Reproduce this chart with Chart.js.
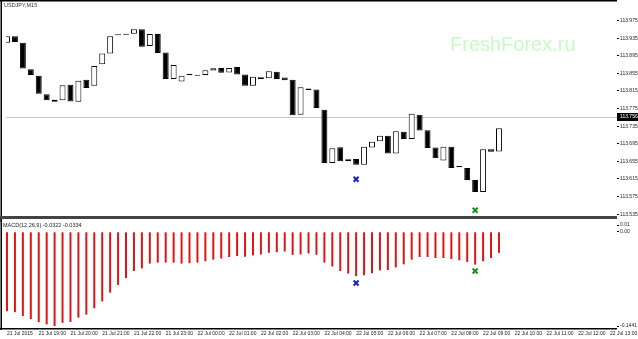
<!DOCTYPE html>
<html>
<head>
<meta charset="utf-8">
<script src="https://cdn.jsdelivr.net/npm/chart.js@4.4.1/dist/chart.umd.min.js"></script>
<style>
  html, body { margin: 0; padding: 0; background: #fff; }
  #wrap { position: relative; width: 638px; height: 339px; overflow: hidden; }
  #wrap canvas { position: absolute; left: 0; }
  #price { top: 0; }
  #macd { top: 219px; }
</style>
</head>
<body>
<div id="wrap">
  <canvas id="price" width="638" height="222"></canvas>
  <canvas id="macd" width="638" height="120"></canvas>
</div>
<script>
// ================== DATA ==================
const symbolLabel = "USDJPY,M15";
const macdLabel = "MACD(12,26,9) -0.0322 -0.0334";
const watermark = "FreshForex.ru";

// M15 candles, 21 Jul 18:00 .. 22 Jul 09:30
const opens = [
  113.9246, 113.9393, 113.9246, 113.8645, 113.8498, 113.8073, 113.7904, 113.7941, 113.8293, 113.7904,
  113.8403, 113.8271, 113.8755, 113.9004, 113.9415, 113.9429, 113.9451, 113.9554, 113.9173, 113.9444,
  113.9026, 113.8425, 113.8366, 113.8513, 113.8498, 113.8513, 113.8615, 113.8674, 113.8571, 113.8696,
  113.8527, 113.8271, 113.8460, 113.8438, 113.8586, 113.8454, 113.8403, 113.7611, 113.8205, 113.8183,
  113.7721, 113.6511, 113.6870, 113.6555, 113.6606, 113.6474, 113.6863, 113.7008, 113.7134, 113.6731,
  113.7222, 113.7061, 113.7611, 113.7259, 113.6863, 113.6568, 113.6885, 113.6423, 113.6401, 113.6128,
  113.5851, 113.6826, 113.6775
];
const closes = [
  113.9393, 113.9261, 113.8659, 113.8513, 113.8086, 113.7941, 113.7948, 113.8278, 113.7910, 113.8381,
  113.8218, 113.8718, 113.9004, 113.9393, 113.9415, 113.9429, 113.9554, 113.9158, 113.9444, 113.9011,
  113.8425, 113.8740, 113.8498, 113.8513, 113.8498, 113.8623, 113.8667, 113.8564, 113.8674, 113.8527,
  113.8271, 113.8476, 113.8425, 113.8601, 113.8425, 113.8394, 113.7596, 113.8234, 113.8174, 113.7765,
  113.6511, 113.6848, 113.6555, 113.6599, 113.6474, 113.6885, 113.6995, 113.7134, 113.6731, 113.7237,
  113.7061, 113.7633, 113.7250, 113.6854, 113.6621, 113.6885, 113.6401, 113.6423, 113.6128, 113.5851,
  113.6826, 113.6766, 113.7303
];

const macd = [
  -0.1214, -0.1229, -0.1288, -0.1333, -0.1382, -0.1416, -0.1441, -0.1392, -0.1377, -0.1312,
  -0.1267, -0.1169, -0.1065, -0.0931, -0.0813, -0.0709, -0.0599, -0.0560, -0.0486, -0.0471,
  -0.0471, -0.0471, -0.0486, -0.0480, -0.0471, -0.0450, -0.0426, -0.0409, -0.0386, -0.0371,
  -0.0382, -0.0361, -0.0346, -0.0322, -0.0312, -0.0302, -0.0352, -0.0346, -0.0331, -0.0352,
  -0.0471, -0.0530, -0.0599, -0.0639, -0.0679, -0.0664, -0.0634, -0.0590, -0.0584, -0.0545,
  -0.0498, -0.0426, -0.0386, -0.0386, -0.0401, -0.0401, -0.0416, -0.0435, -0.0461, -0.0501,
  -0.0450, -0.0401, -0.0322
];

// markers (bar index, value)
const blueMarkIdx = 44, blueMarkPrice = 113.6144, blueMarkMacd = -0.0783;
const greenMarkIdx = 59, greenMarkPrice = 113.5440, greenMarkMacd = -0.0599;

const currentPrice = 113.756;

const priceMin = 113.5308, priceMax = 114.0082;
const priceTicks = [113.975, 113.935, 113.895, 113.855, 113.815, 113.775, 113.735, 113.695, 113.655, 113.615, 113.575, 113.535];

const macdMin = -0.1471, macdMax = 0.0104;
const macdTicks = [0.0104, 0, -0.1441];
const macdTickLabels = ["0.01", "0.00", "-0.1441"];

const xMin = -0.125, xMax = 76.875;
const timeLabelIdx = [0, 4, 8, 12, 16, 20, 24, 28, 32, 36, 40, 44, 48, 52, 56, 60, 64, 68, 72, 76];
const timeLabels = [
  "21 Jul 2015", "21 Jul 19:00", "21 Jul 20:00", "21 Jul 21:00", "21 Jul 22:00", "21 Jul 23:00",
  "22 Jul 00:00", "22 Jul 01:00", "22 Jul 02:00", "22 Jul 03:00", "22 Jul 04:00", "22 Jul 05:00",
  "22 Jul 06:00", "22 Jul 07:00", "22 Jul 08:00", "22 Jul 09:00", "22 Jul 10:00", "22 Jul 11:00",
  "22 Jul 12:00", "22 Jul 13:00"
];

// ================== UTIL ==================
const FONT = '"Liberation Sans", Arial, sans-serif';
Chart.defaults.font.family = FONT;
Chart.defaults.animation = false;
Chart.defaults.events = [];

function candleFill(i) {
  return closes[i] > opens[i] ? "#fff" : "#000";
}

function trimAxis(s) {
  s.paddingTop = 0; s.paddingBottom = 0; s.paddingLeft = 0; s.paddingRight = 0;
}

const markerStyle = { pointStyle: "crossRot", radius: 3.5, borderWidth: 2 };

// ================== PRICE PANEL ==================
const priceDecor = {
  id: "priceDecor",
  beforeDatasetsDraw(chart) {
    const { ctx, chartArea: a, scales: { y } } = chart;
    const py = Math.round(y.getPixelForValue(currentPrice)) + 0.5;
    ctx.save();
    ctx.fillStyle = "rgb(200,250,200)";
    ctx.font = "20px " + FONT;
    ctx.textBaseline = "alphabetic";
    ctx.fillText(watermark, 450, 50.5);
    ctx.strokeStyle = "#c8c8c8";
    ctx.lineWidth = 1;
    ctx.beginPath(); ctx.moveTo(a.left, py); ctx.lineTo(a.right, py); ctx.stroke();
    ctx.restore();
  },
  afterDraw(chart) {
    const { ctx, chartArea: a, scales: { y } } = chart;
    const py = Math.round(y.getPixelForValue(currentPrice));
    ctx.save();
    // frame
    ctx.fillStyle = "#000";
    ctx.fillRect(0, 0, a.right, 1.5);
    ctx.fillRect(0.5, 0, 1.5, chart.height);
    ctx.fillStyle = "#444";
    ctx.fillRect(0, a.bottom, a.right, 3);
    // symbol
    ctx.fillStyle = "#333";
    ctx.font = "5.5px " + FONT;
    ctx.textBaseline = "top";
    ctx.fillText(symbolLabel, 4, 3);
    // current price box
    ctx.fillStyle = "#000";
    ctx.fillRect(a.right, py - 4, chart.width - a.right, 8);
    ctx.fillStyle = "#fff";
    ctx.font = "5px " + FONT;
    ctx.textBaseline = "middle";
    ctx.fillText(currentPrice.toFixed(3), a.right + 3, py);
    ctx.restore();
  }
};

new Chart(document.getElementById("price"), {
  type: "bar",
  data: {
    datasets: [
      {
        type: "bar",
        data: opens.map((o, i) => ({ x: i, y: [o, closes[i]] })),
        backgroundColor: ctx => candleFill(ctx.dataIndex),
        borderColor: "#000",
        borderWidth: 1,
        borderSkipped: false,
        barPercentage: 0.75,
        categoryPercentage: 1,
        minBarLength: 1,
        order: 2
      },
      {
        type: "scatter",
        data: [{ x: blueMarkIdx, y: blueMarkPrice }],
        borderColor: "#1c1cd0", backgroundColor: "#1c1cd0",
        ...markerStyle, order: 1
      },
      {
        type: "scatter",
        data: [{ x: greenMarkIdx, y: greenMarkPrice }],
        borderColor: "#1e8c1e", backgroundColor: "#1e8c1e",
        ...markerStyle, order: 1
      }
    ]
  },
  options: {
    responsive: false,
    layout: { padding: { left: 1, top: 2, right: 0, bottom: 3 } },
    plugins: { legend: { display: false }, tooltip: { enabled: false } },
    scales: {
      x: { type: "linear", min: xMin, max: xMax, offset: false, display: false },
      y: {
        position: "right",
        min: priceMin, max: priceMax,
        afterBuildTicks: s => { s.ticks = priceTicks.map(v => ({ value: v })); },
        afterFit: s => { s.width = 21; trimAxis(s); },
        grid: { drawOnChartArea: false, drawTicks: true, tickLength: 2, color: "#000" },
        border: { display: false },
        ticks: { padding: 1, autoSkip: false, color: "#222", font: { size: 5 }, callback: v => v.toFixed(3) }
      }
    }
  },
  plugins: [priceDecor]
});

// ================== MACD PANEL ==================
const macdDecor = {
  id: "macdDecor",
  afterDraw(chart) {
    const { ctx, chartArea: a } = chart;
    ctx.save();
    ctx.fillStyle = "#000";
    ctx.fillRect(0.5, 0, 1.5, a.bottom + 2);
    ctx.fillRect(0, a.bottom, a.right, 1.5);
    ctx.fillStyle = "#222";
    ctx.font = "5.5px " + FONT;
    ctx.textBaseline = "top";
    ctx.fillText(macdLabel, 3, 3.5);
    ctx.restore();
  }
};

new Chart(document.getElementById("macd"), {
  type: "bar",
  data: {
    datasets: [
      {
        type: "bar",
        data: macd.map((v, i) => ({ x: i, y: v })),
        backgroundColor: "#dc1414",
        barPercentage: 0.25,
        categoryPercentage: 1,
        order: 2
      },
      {
        type: "scatter",
        data: [{ x: blueMarkIdx, y: blueMarkMacd }],
        borderColor: "#1c1cd0", backgroundColor: "#1c1cd0",
        ...markerStyle, order: 1
      },
      {
        type: "scatter",
        data: [{ x: greenMarkIdx, y: greenMarkMacd }],
        borderColor: "#1e8c1e", backgroundColor: "#1e8c1e",
        ...markerStyle, order: 1
      }
    ]
  },
  options: {
    responsive: false,
    layout: { padding: { left: 1, top: 3, right: 0, bottom: 0 } },
    plugins: { legend: { display: false }, tooltip: { enabled: false } },
    scales: {
      x: {
        type: "linear", min: xMin, max: xMax, offset: false,
        afterBuildTicks: s => { s.ticks = timeLabelIdx.map(v => ({ value: v })); },
        afterFit: s => { s.height = 11; trimAxis(s); },
        grid: { display: false, drawTicks: false },
        border: { display: false },
        ticks: {
          align: "start", maxRotation: 0, minRotation: 0, autoSkip: false, padding: 3,
          color: "#222", font: { size: 5 },
          callback: (v, k) => timeLabels[k]
        }
      },
      y: {
        position: "right",
        min: macdMin, max: macdMax,
        afterBuildTicks: s => { s.ticks = macdTicks.map(v => ({ value: v })); },
        afterFit: s => { s.width = 21; trimAxis(s); },
        grid: { drawOnChartArea: false, drawTicks: true, tickLength: 2, color: "#000" },
        border: { display: false },
        ticks: { padding: 1, autoSkip: false, color: "#222", font: { size: 5 }, callback: (v, k) => macdTickLabels[k] }
      }
    }
  },
  plugins: [macdDecor]
});
</script>
</body>
</html>
